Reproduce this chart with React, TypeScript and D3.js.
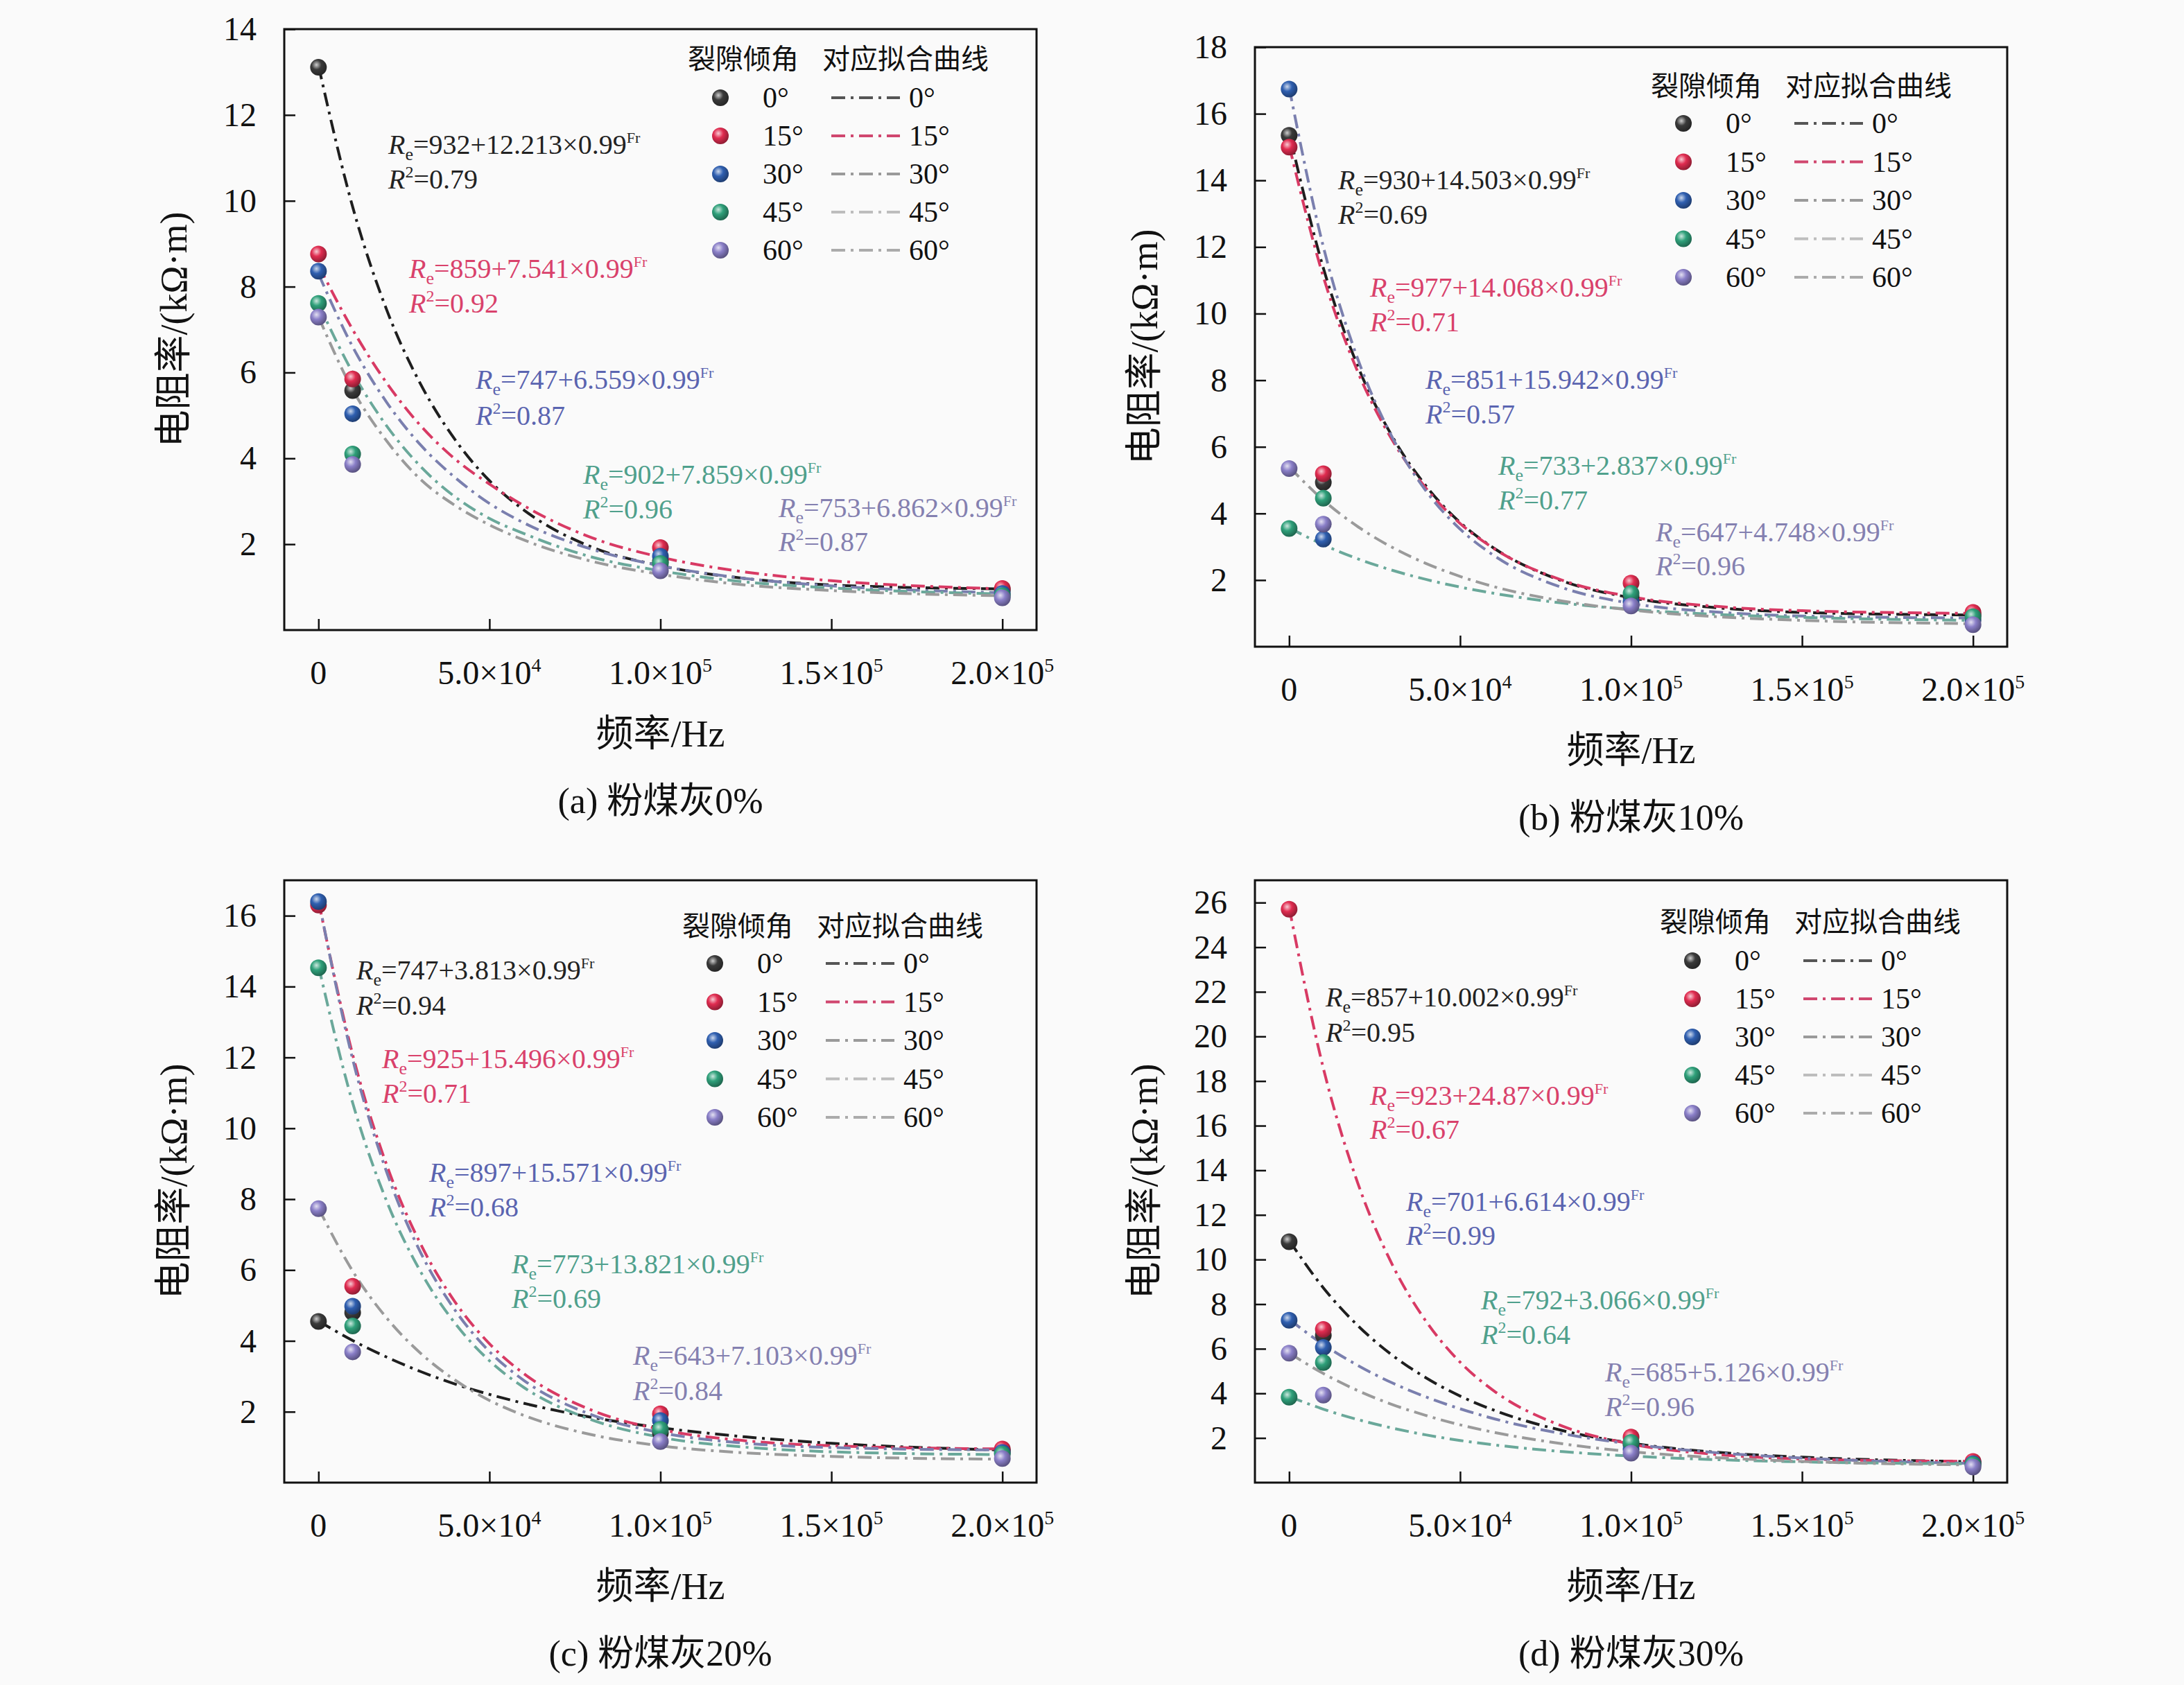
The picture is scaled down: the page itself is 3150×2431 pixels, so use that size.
import { useEffect, useRef } from 'react';
import * as d3 from 'd3';

const W = 3150;
const H = 2431;
const SERIF = '"Liberation Serif", "Times New Roman", "Noto Sans CJK SC", serif';

// series / categories
const angles = ['0°', '15°', '30°', '45°', '60°'];
const pointFreqs = [0, 1e4, 1e5, 2e5];
const curveFreqs = [0, 1e4, 2e4, 3e4, 4e4, 5e4, 6e4, 8e4, 1e5, 1.25e5, 1.5e5, 2e5];
const xTicks = [0, 5e4, 1e5, 1.5e5, 2e5];
const captions = ['(a) 粉煤灰0%', '(b) 粉煤灰10%', '(c) 粉煤灰20%', '(d) 粉煤灰30%'];
const yMax = [14, 18, 17, 27];

// measured points (kΩ·m), rows = angle, cols = pointFreqs
const ptsA = [[13.11, 5.58, 1.6, 0.93], [8.76, 5.85, 1.92, 0.97], [8.36, 5.04, 1.72, 0.85], [7.61, 4.1, 1.55, 0.8], [7.29, 3.86, 1.38, 0.75]];
const ptsB = [[15.35, 4.93, 1.5, 0.95], [15.0, 5.19, 1.91, 1.03], [16.74, 3.23, 1.35, 0.8], [3.55, 4.46, 1.6, 0.9], [5.35, 3.68, 1.22, 0.66]];
const ptsC = [[4.55, 4.8, 1.4, 0.9], [16.3, 5.54, 1.94, 0.95], [16.4, 4.98, 1.75, 0.85], [14.53, 4.42, 1.5, 0.8], [7.73, 3.69, 1.16, 0.68]];
const ptsD = [[10.8, 6.6, 1.7, 0.9], [25.7, 6.87, 2.04, 0.95], [7.28, 6.06, 1.5, 0.85], [3.83, 5.38, 1.8, 0.8], [5.8, 3.92, 1.32, 0.7]];

// fitted curves, cols = curveFreqs
const fitA = [
  [13.15, 9.86, 7.45, 5.71, 4.43, 3.48, 2.8, 1.93, 1.5, 1.2, 1.05, 0.96],
  [8.5, 7.0, 5.75, 4.75, 3.98, 3.4, 2.9, 2.15, 1.7, 1.35, 1.15, 0.96],
  [8.3, 6.6, 5.3, 4.3, 3.55, 2.95, 2.5, 1.88, 1.5, 1.2, 1.03, 0.87],
  [7.6, 6.0, 4.75, 3.8, 3.1, 2.6, 2.25, 1.7, 1.38, 1.12, 0.98, 0.84],
  [7.3, 5.6, 4.4, 3.5, 2.9, 2.45, 2.1, 1.6, 1.3, 1.05, 0.92, 0.8],
];
const fitB = [
  [15.43, 11.37, 8.44, 6.34, 4.83, 3.73, 2.95, 1.97, 1.47, 1.17, 1.03, 0.95],
  [15.05, 11.11, 8.27, 6.23, 4.76, 3.7, 2.94, 1.99, 1.5, 1.21, 1.08, 1.0],
  [16.79, 12.01, 8.66, 6.32, 4.68, 3.53, 2.73, 1.77, 1.3, 1.04, 0.92, 0.86],
  [3.57, 3.06, 2.64, 2.3, 2.02, 1.79, 1.6, 1.31, 1.12, 0.97, 0.88, 0.79],
  [5.4, 4.4, 3.61, 2.99, 2.5, 2.11, 1.8, 1.37, 1.1, 0.9, 0.79, 0.69],
];
const fitC = [
  [4.56, 4.01, 3.54, 3.13, 2.78, 2.49, 2.24, 1.84, 1.55, 1.29, 1.11, 0.92],
  [16.42, 12.08, 8.95, 6.71, 5.09, 3.92, 3.08, 2.04, 1.5, 1.18, 1.04, 0.95],
  [16.47, 11.95, 8.75, 6.47, 4.86, 3.7, 2.89, 1.91, 1.41, 1.11, 0.99, 0.92],
  [14.59, 10.72, 7.93, 5.93, 4.49, 3.44, 2.69, 1.77, 1.28, 1.0, 0.87, 0.79],
  [7.75, 5.97, 4.64, 3.64, 2.89, 2.32, 1.9, 1.35, 1.04, 0.84, 0.74, 0.66],
];
const fitD = [
  [10.86, 8.73, 7.05, 5.73, 4.7, 3.88, 3.24, 2.33, 1.77, 1.36, 1.14, 0.94],
  [25.79, 18.58, 13.46, 9.82, 7.24, 5.4, 4.1, 2.53, 1.73, 1.26, 1.06, 0.95],
  [7.32, 6.19, 5.26, 4.48, 3.84, 3.31, 2.86, 2.19, 1.73, 1.34, 1.1, 0.86],
  [3.86, 3.29, 2.83, 2.45, 2.14, 1.89, 1.69, 1.39, 1.19, 1.03, 0.93, 0.84],
  [5.81, 4.89, 4.13, 3.51, 3.01, 2.59, 2.25, 1.74, 1.39, 1.12, 0.95, 0.79],
];

// fit equations: Re = a + b×0.99^Fr, R²
const eqA = ['932+12.213', '859+7.541', '747+6.559', '902+7.859', '753+6.862'];
const r2A = ['0.79', '0.92', '0.87', '0.96', '0.87'];
const eqB = ['930+14.503', '977+14.068', '851+15.942', '733+2.837', '647+4.748'];
const r2B = ['0.69', '0.71', '0.57', '0.77', '0.96'];
const eqC = ['747+3.813', '925+15.496', '897+15.571', '773+13.821', '643+7.103'];
const r2C = ['0.94', '0.71', '0.68', '0.69', '0.84'];
const eqD = ['857+10.002', '923+24.87', '701+6.614', '792+3.066', '685+5.126'];
const r2D = ['0.95', '0.67', '0.99', '0.64', '0.96'];

const markerColors = ['#3a3a3a', '#e02c50', '#2f5fb0', '#2fa07a', '#8a7fc8'];
const curveColors = ['#1e1e1e', '#d83a64', '#7a7fae', '#6aa89a', '#9a9a9a'];
const legendLineColors = ['#555555', '#d0476f', '#9a9a9a', '#bdbdbd', '#ababab'];
const eqColors = ['#222222', '#d9416b', '#5a64b0', '#4fa08c', '#8480b0'];

const panels = [
  { left: 410, top: 42, pts: ptsA, fit: fitA, eq: eqA, r2: r2A,
    legend: { dy: 43, mx: 629, row0: 99, step: 55 },
    eqPos: [[560, 209, 259], [590, 388, 438], [686, 548, 600], [841, 685, 735], [1123, 733, 782]] },
  { left: 1810, top: 68, pts: ptsB, fit: fitB, eq: eqB, r2: r2B,
    legend: { dy: 56, mx: 618, row0: 110, step: 55.5 },
    eqPos: [[1930, 260, 310], [1976, 415, 465], [2056, 548, 598], [2161, 672, 722], [2388, 768, 817]] },
  { left: 410, top: 1270, pts: ptsC, fit: fitC, eq: eqC, r2: r2C,
    legend: { dy: 66, mx: 621, row0: 120, step: 55.5 },
    eqPos: [[514, 1400, 1451], [551, 1528, 1578], [619, 1692, 1742], [738, 1824, 1874], [913, 1956, 2007]] },
  { left: 1810, top: 1270, pts: ptsD, fit: fitD, eq: eqD, r2: r2D,
    legend: { dy: 60, mx: 631, row0: 116, step: 55 },
    eqPos: [[1912, 1439, 1490], [1976, 1581, 1630], [2028, 1734, 1783], [2136, 1876, 1926], [2315, 1980, 2030]] },
];
const heights = [867, 865, 869, 869];
const PW = 1085;
const DASH = '20 8 4 8';

export default function App() {
  const svgRef = useRef<SVGSVGElement>(null);

  useEffect(() => {
    if (!svgRef.current) return;
    const svg = d3.select(svgRef.current);
    svg.selectAll('*').remove();

    svg.append('rect').attr('width', W).attr('height', H).attr('fill', '#fafafa');

    // sphere gradients
    const defs = svg.append('defs');
    markerColors.forEach((c, i) => {
      const g = defs.append('radialGradient')
        .attr('id', `ball${i}`)
        .attr('cx', '38%').attr('cy', '35%').attr('r', '65%');
      g.append('stop').attr('offset', '0%').attr('stop-color', d3.interpolateRgb(c, '#ffffff')(0.75));
      g.append('stop').attr('offset', '45%').attr('stop-color', c);
      g.append('stop').attr('offset', '100%').attr('stop-color', d3.color(c)!.darker(1.2).formatHex());
    });

    panels.forEach((p, pi) => {
      const h = heights[pi];
      const g = svg.append('g').style('font-family', SERIF);
      const x = d3.scaleLinear().domain([-1e4, 2.1e5]).range([p.left, p.left + PW]);
      const y = d3.scaleLinear().domain([0, yMax[pi]]).range([p.top + h, p.top]);
      const bottom = p.top + h;

      // inward ticks
      g.append('g')
        .attr('transform', `translate(0,${bottom})`)
        .call(d3.axisBottom(x).tickValues(xTicks).tickSize(-16).tickFormat(() => ''))
        .call(a => a.select('.domain').remove())
        .call(a => a.selectAll('line').attr('stroke', '#111').attr('stroke-width', 2.5));
      const yTicks = d3.range(2, yMax[pi] + 1, 2);
      g.append('g')
        .attr('transform', `translate(${p.left},0)`)
        .call(d3.axisLeft(y).tickValues(yTicks).tickSize(-16).tickFormat(() => ''))
        .call(a => a.select('.domain').remove())
        .call(a => a.selectAll('line').attr('stroke', '#111').attr('stroke-width', 2.5));

      g.append('rect')
        .attr('x', p.left).attr('y', p.top).attr('width', PW).attr('height', h)
        .attr('fill', 'none').attr('stroke', '#111').attr('stroke-width', 3);

      // tick labels
      g.selectAll('.ylab').data(yTicks).join('text')
        .attr('x', p.left - 40).attr('y', d => y(d) + 16)
        .attr('text-anchor', 'end').style('font-size', '48px').attr('fill', '#111')
        .text(d => d);
      xTicks.forEach(t => {
        const tx = g.append('text')
          .attr('x', x(t)).attr('y', bottom + 78)
          .attr('text-anchor', 'middle').style('font-size', '48px').attr('fill', '#111');
        if (t === 0) { tx.text('0'); return; }
        const e = Math.floor(Math.log10(t));
        tx.append('tspan').text(`${(t / 10 ** e).toFixed(1)}×10`);
        tx.append('tspan').attr('dy', -18).style('font-size', '28px').text(e);
      });

      // titles
      g.append('text')
        .attr('x', p.left + PW / 2).attr('y', bottom + 168)
        .attr('text-anchor', 'middle').style('font-size', '54px').attr('fill', '#111')
        .text('频率/Hz');
      g.append('text')
        .attr('x', p.left + PW / 2).attr('y', bottom + 264)
        .attr('text-anchor', 'middle').style('font-size', '52px').attr('fill', '#111')
        .text(captions[pi]);
      g.append('text')
        .attr('transform', `translate(${p.left - 159},${p.top + h / 2}) rotate(-90)`)
        .attr('text-anchor', 'middle').attr('dominant-baseline', 'central')
        .style('font-size', '54px').attr('fill', '#111')
        .text('电阻率/(kΩ·m)');

      // fitted curves
      const line = d3.line<number>()
        .x((_, i) => x(curveFreqs[i]))
        .y(d => y(d))
        .curve(d3.curveMonotoneX);
      g.selectAll('.fit').data(p.fit).join('path')
        .attr('d', d => line(d))
        .attr('fill', 'none')
        .attr('stroke', (_, i) => curveColors[i])
        .attr('stroke-width', 4)
        .attr('stroke-dasharray', DASH);

      // points
      p.pts.forEach((row, si) => {
        g.selectAll(`.pt${si}`).data(row).join('circle')
          .attr('cx', (_, i) => x(pointFreqs[i]))
          .attr('cy', d => y(d))
          .attr('r', 12)
          .attr('fill', `url(#ball${si})`);
      });

      // equations
      p.eqPos.forEach(([ex, y1, y2], i) => {
        const t1 = g.append('text').attr('x', ex).attr('y', y1 + 13)
          .attr('fill', eqColors[i]).style('font-size', '40px');
        t1.append('tspan').style('font-style', 'italic').text('R');
        t1.append('tspan').attr('dy', 9).style('font-size', '26px').text('e');
        t1.append('tspan').attr('dy', -9).text(`=${p.eq[i]}×0.99`);
        t1.append('tspan').attr('dy', -16).style('font-size', '22px').text('Fr');
        const t2 = g.append('text').attr('x', ex).attr('y', y2 + 13)
          .attr('fill', eqColors[i]).style('font-size', '40px');
        t2.append('tspan').style('font-style', 'italic').text('R');
        t2.append('tspan').attr('dy', -16).style('font-size', '24px').text('2');
        t2.append('tspan').attr('dy', 16).text(`=${p.r2[i]}`);
      });

      // legend
      const L = p.legend;
      const mx = p.left + L.mx;
      const hy = p.top + L.dy;
      g.append('text').attr('x', mx - 47).attr('y', hy + 14)
        .style('font-size', '40px').attr('fill', '#111').text('裂隙倾角');
      g.append('text').attr('x', mx + 147).attr('y', hy + 14)
        .style('font-size', '40px').attr('fill', '#111').text('对应拟合曲线');
      angles.forEach((a, i) => {
        const ry = p.top + L.row0 + i * L.step;
        g.append('circle').attr('cx', mx).attr('cy', ry).attr('r', 12).attr('fill', `url(#ball${i})`);
        g.append('text').attr('x', mx + 61).attr('y', ry + 14)
          .style('font-size', '42px').attr('fill', '#111').text(a);
        g.append('line')
          .attr('x1', mx + 160).attr('x2', mx + 259).attr('y1', ry).attr('y2', ry)
          .attr('stroke', legendLineColors[i]).attr('stroke-width', 4)
          .attr('stroke-dasharray', DASH);
        g.append('text').attr('x', mx + 272).attr('y', ry + 14)
          .style('font-size', '42px').attr('fill', '#111').text(a);
      });
    });
  }, []);

  return (
    <svg
      ref={svgRef}
      width={W}
      height={H}
      style={{ position: 'absolute', left: 0, top: 0, display: 'block' }}
    />
  );
}
